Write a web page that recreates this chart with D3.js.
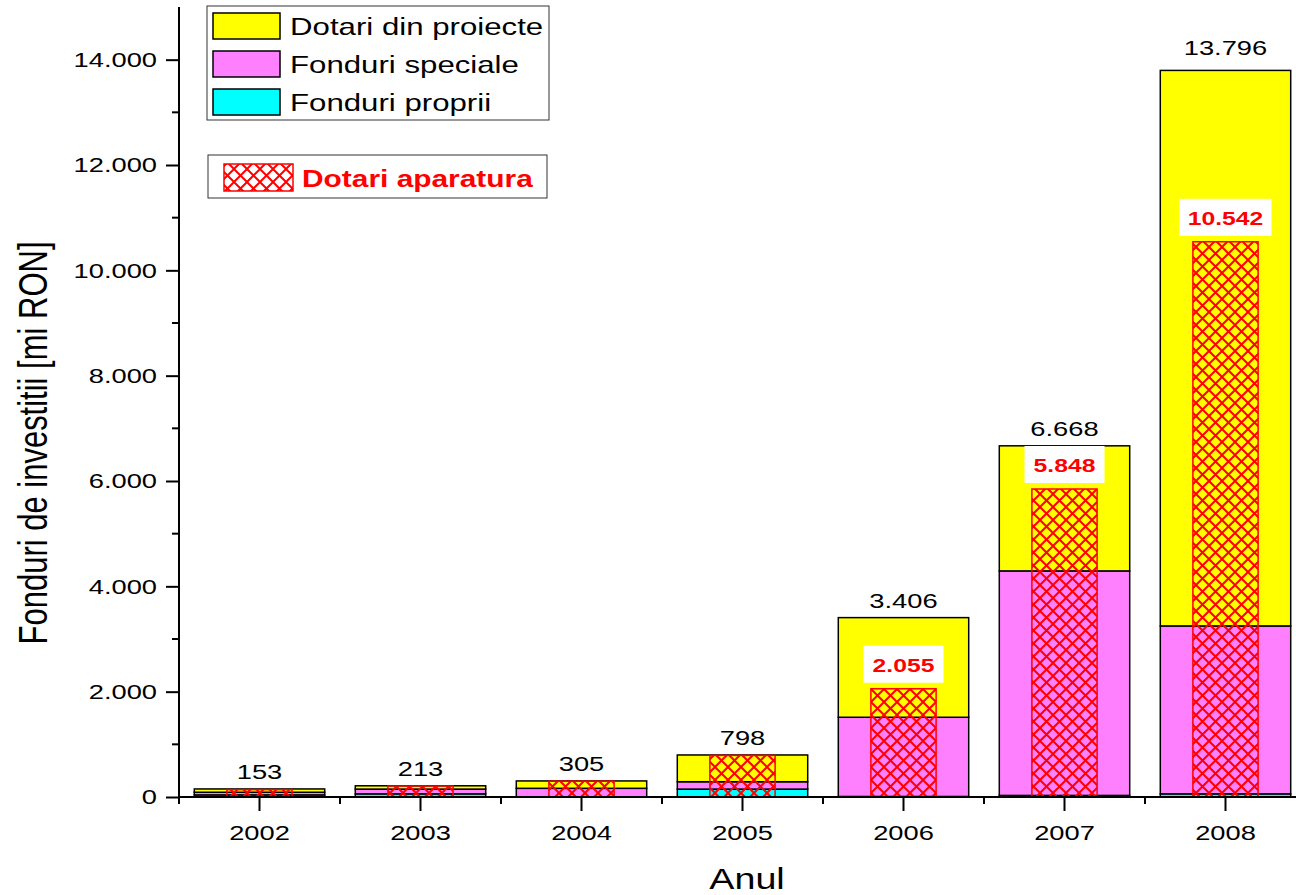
<!DOCTYPE html>
<html lang="ro">
<head>
<meta charset="utf-8">
<title>Fonduri de investitii</title>
<script src="https://cdn.jsdelivr.net/npm/d3@7"></script>
<style>
    body {margin: 0; background: white;}
    svg {display: block; font-family: "Liberation Sans", Arial, sans-serif;}
    .axis path, .axis line {stroke: black; stroke-width: 2; fill: none;}
    .axis text {fill: black;}
</style>
</head>
<body>
<script>
// data
var years = ["2002", "2003", "2004", "2005", "2006", "2007", "2008"];
var fonduriProprii = [40, 60, 5, 150, 10, 30, 60];
var fonduriSpeciale = [50, 90, 160, 140, 1504, 4263, 3188];
var dotariProiecte = [63, 63, 140, 508, 1892, 2375, 10548];
var totals = [153, 213, 305, 798, 3406, 6668, 13796];
var dotariAparatura = [140, 210, 300, 790, 2055, 5848, 10542];
var aparaturaLabeled = [false, false, false, false, true, true, true];
var yTicks = [0, 2000, 4000, 6000, 8000, 10000, 12000, 14000];

var w = 1296, h = 895;
var x0 = 179, x1 = 1306, yBottom = 797;
var sx = 1.3; // text in the original is stretched sideways

var svg = d3.select("body").append("svg")
    .attr("width", w)
    .attr("height", h);

var loc = d3.formatLocale({decimal: ",", thousands: ".", grouping: [3], currency: ["", ""]});
var fmt = loc.format(",d");

// put a text at (x,y), stretched horizontally
function placeText(sel, x, y) {
    sel.attr("transform", function(d, i) {
        var px = typeof x === "function" ? x(d, i) : x;
        var py = typeof y === "function" ? y(d, i) : y;
        return "translate(" + px + "," + py + ") scale(" + sx + ",1)";
    });
}

var xScale = d3.scaleBand()
    .domain(years)
    .range([x0, x1])
    .paddingInner(0.19)
    .paddingOuter(0.095);

var yScale = d3.scaleLinear()
    .domain([0, 15000])
    .range([yBottom, 7]);

// hatch pattern
var defs = svg.append("defs");
var pat = defs.append("pattern")
    .attr("id", "hatch")
    .attr("patternUnits", "userSpaceOnUse")
    .attr("width", 13)
    .attr("height", 13);
pat.append("path")
    .attr("d", "M-1,-1 L14,14 M14,-1 L-1,14")
    .attr("stroke", "#ff0000")
    .attr("stroke-width", 2);

// stacked bars
var rows = years.map(function(y, i) {
    return {year: y, proprii: fonduriProprii[i], speciale: fonduriSpeciale[i], proiecte: dotariProiecte[i]};
});
var keys = ["proprii", "speciale", "proiecte"];
var colors = {proprii: "#00ffff", speciale: "#ff80ff", proiecte: "#ffff00"};
var stacked = d3.stack().keys(keys)(rows);

svg.selectAll("g.layer")
    .data(stacked)
    .enter().append("g")
    .attr("class", "layer")
    .attr("fill", function(d) { return colors[d.key]; })
    .selectAll("rect")
    .data(function(d) { return d; })
    .enter().append("rect")
    .attr("x", function(d) { return xScale(d.data.year); })
    .attr("y", function(d) { return yScale(d[1]); })
    .attr("width", xScale.bandwidth())
    .attr("height", function(d) { return yScale(d[0]) - yScale(d[1]); })
    .attr("stroke", "black")
    .attr("stroke-width", 1.5);

// aparatura hatch bars
var hw = xScale.bandwidth() / 2;
svg.selectAll("rect.ap")
    .data(years)
    .enter().append("rect")
    .attr("class", "ap")
    .attr("x", function(d) { return xScale(d) + xScale.bandwidth() / 2 - hw / 2; })
    .attr("y", function(d, i) { return yScale(dotariAparatura[i]); })
    .attr("width", hw)
    .attr("height", function(d, i) { return yBottom - yScale(dotariAparatura[i]); })
    .attr("fill", "url(#hatch)")
    .attr("stroke", "#ff0000")
    .attr("stroke-width", 1.5);

// totals above bars
svg.selectAll("text.total")
    .data(years)
    .enter().append("text")
    .attr("class", "total")
    .attr("text-anchor", "middle")
    .attr("font-size", 21)
    .call(placeText,
        function(d) { return xScale(d) + xScale.bandwidth() / 2; },
        function(d, i) { return yScale(totals[i]) - (d === "2008" ? 15 : 10); })
    .text(function(d, i) { return fmt(totals[i]); });

// red aparatura labels with white box
var apLab = svg.selectAll("g.aplab")
    .data(years.filter(function(d, i) { return aparaturaLabeled[i]; }))
    .enter().append("g")
    .attr("class", "aplab")
    .attr("transform", function(d) {
        var i = years.indexOf(d);
        return "translate(" + (xScale(d) + xScale.bandwidth() / 2) + "," + (yScale(dotariAparatura[i]) - 5) + ")";
    });
apLab.append("rect")
    .attr("x", function(d) { return d === "2008" ? -46 : -40; })
    .attr("y", -38)
    .attr("width", function(d) { return d === "2008" ? 92 : 80; })
    .attr("height", 37)
    .attr("fill", "white");
apLab.append("text")
    .attr("text-anchor", "middle")
    .attr("font-size", 19)
    .attr("font-weight", "bold")
    .attr("fill", "#ff0000")
    .call(placeText, 0, -12)
    .text(function(d) { return fmt(dotariAparatura[years.indexOf(d)]); });

// axes
var yAxis = d3.axisLeft(yScale)
    .tickValues(yTicks)
    .tickFormat(fmt)
    .tickSize(13)
    .tickPadding(9);
var gy = svg.append("g")
    .attr("class", "axis")
    .attr("transform", "translate(" + x0 + ",0)")
    .call(yAxis);
gy.selectAll(".tick text")
    .attr("font-size", 21)
    .attr("x", -22 / sx)
    .attr("transform", "scale(" + sx + ",1)");
gy.select(".domain").attr("d", "M0," + yScale(15000) + "V" + yBottom)
    .attr("stroke-width", 2.5);
gy.selectAll(".minor")
    .data(d3.range(1000, 15000, 2000))
    .enter().append("line")
    .attr("class", "minor")
    .attr("x1", -7).attr("x2", 0)
    .attr("y1", function(d) { return yScale(d); })
    .attr("y2", function(d) { return yScale(d); });

var xAxis = d3.axisBottom(xScale)
    .tickSize(14)
    .tickPadding(14);
var gx = svg.append("g")
    .attr("class", "axis")
    .attr("transform", "translate(0," + yBottom + ")")
    .call(xAxis);
gx.selectAll(".tick text")
    .attr("font-size", 21)
    .attr("transform", "scale(" + sx + ",1)");
gx.select(".domain").attr("d", "M" + x0 + ",0H" + w)
    .attr("stroke-width", 2.5);
gx.selectAll(".minor")
    .data(years)
    .enter().append("line")
    .attr("class", "minor")
    .attr("x1", function(d) { return xScale(d) + xScale.bandwidth() / 2 - xScale.step() / 2; })
    .attr("x2", function(d) { return xScale(d) + xScale.bandwidth() / 2 - xScale.step() / 2; })
    .attr("y1", 0).attr("y2", 7);

// axis titles
svg.append("text")
    .attr("transform", "translate(47,443) rotate(-90) scale(1," + sx + ")")
    .attr("text-anchor", "middle")
    .attr("font-size", 31)
    .text("Fonduri de investitii [mi RON]");
svg.append("text")
    .attr("text-anchor", "middle")
    .attr("font-size", 29)
    .call(placeText, 747, 889)
    .text("Anul");

// legend
var legItems = [
    {label: "Dotari din proiecte", color: colors.proiecte},
    {label: "Fonduri speciale", color: colors.speciale},
    {label: "Fonduri proprii", color: colors.proprii}
];
var leg = svg.append("g");
leg.append("rect")
    .attr("x", 207).attr("y", 6)
    .attr("width", 342).attr("height", 114)
    .attr("fill", "white").attr("stroke", "#333").attr("stroke-width", 1);
var li = leg.selectAll("g.li")
    .data(legItems)
    .enter().append("g")
    .attr("transform", function(d, i) { return "translate(0," + (i * 38) + ")"; });
li.append("rect")
    .attr("x", 213).attr("y", 13)
    .attr("width", 67).attr("height", 26)
    .attr("fill", function(d) { return d.color; })
    .attr("stroke", "black").attr("stroke-width", 1.5);
li.append("text")
    .attr("font-size", 24)
    .call(placeText, 290, 35)
    .text(function(d) { return d.label; });

var leg2 = svg.append("g");
leg2.append("rect")
    .attr("x", 208).attr("y", 155)
    .attr("width", 339).attr("height", 43)
    .attr("fill", "white").attr("stroke", "#333").attr("stroke-width", 1);
leg2.append("rect")
    .attr("x", 224).attr("y", 164)
    .attr("width", 69).attr("height", 27)
    .attr("fill", "url(#hatch)")
    .attr("stroke", "#ff0000").attr("stroke-width", 1.5);
leg2.append("text")
    .attr("font-size", 23)
    .attr("font-weight", "bold")
    .attr("fill", "#ff0000")
    .call(placeText, 302, 187)
    .text("Dotari aparatura");
</script>
</body>
</html>
